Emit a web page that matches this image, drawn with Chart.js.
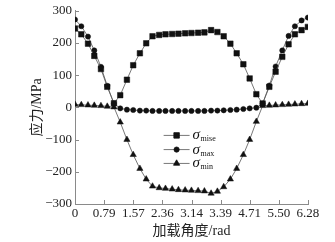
<!DOCTYPE html>
<html>
<head>
<meta charset="utf-8">
<script src="https://cdn.jsdelivr.net/npm/chart.js@4.4.1/dist/chart.umd.min.js"></script>
<style>
  html, body { margin: 0; padding: 0; background: #fff; }
  #wrap { width: 335px; height: 242px; }
</style>
</head>
<body>
<div id="wrap"><canvas id="stressChart" width="335" height="242"></canvas></div>
<script>
// loading angle (rad), every 10 degrees
const angles = [0, 0.17, 0.35, 0.52, 0.70, 0.87, 1.05, 1.22, 1.40, 1.57, 1.75, 1.92, 2.09,
    2.27, 2.44, 2.62, 2.79, 2.97, 3.14, 3.32, 3.49, 3.67, 3.84, 4.01, 4.19, 4.36, 4.54,
    4.71, 4.89, 5.06, 5.24, 5.41, 5.59, 5.76, 5.93, 6.11, 6.28];

const sigmaMise = [245, 227, 198, 160, 119, 64, 13, 38, 86, 131, 168, 199, 221,
    225, 227, 228, 229, 230, 231, 232, 233, 240, 234, 221, 198, 168, 134, 90, 41,
    12, 64, 111, 157, 196, 227, 240, 250];

const sigmaMax = [273, 252, 220, 177, 126, 67, 12, -3, -7, -8, -10, -10, -11,
    -11, -11, -11, -11, -11, -11, -11, -11, -10, -10, -9, -8, -7, -5, -3, -1,
    12, 68, 127, 177, 222, 252, 270, 279];

const sigmaMin = [9, 8, 7, 6, 5, 3, 1, -46, -100, -147, -190, -223, -245,
    -250, -252, -254, -256, -257, -258, -259, -260, -267, -261, -247, -223, -190, -147, -100, -44,
    5, 6, 7, 8, 9, 10, 11, 12];

const xTickValues = [0, 0.785, 1.571, 2.356, 3.142, 3.927, 4.712, 5.498, 6.283];
const xTickLabels = ['0', '0.79', '1.57', '2.36', '3.14', '3.39', '4.71', '5.50', '6.28'];

const seriesNames = ['mise', 'max', 'min'];
const markers = ['rect', 'circle', 'triangle'];
const markerSizes = [3.9, 2.6, 3.6];

const serif = '"Liberation Serif", "Times New Roman", serif';
const cjk = '"Liberation Serif", "Noto Sans CJK SC", serif';
const axisGray = '#8a8a8a';

function toPoints(values) {
    return values.map((v, i) => ({ x: angles[i], y: v }));
}

// short inward tick marks on both axes
const innerTicks = {
    id: 'innerTicks',
    afterDraw(chart) {
        const ctx = chart.ctx;
        const xs = chart.scales.x;
        const ys = chart.scales.y;
        ctx.save();
        ctx.strokeStyle = axisGray;
        ctx.lineWidth = 1;
        ctx.beginPath();
        ys.ticks.forEach((t, i) => {
            const y = Math.round(ys.getPixelForTick(i)) + 0.5;
            ctx.moveTo(ys.right, y);
            ctx.lineTo(ys.right + 4, y);
        });
        xs.ticks.forEach((t, i) => {
            const x = Math.round(xs.getPixelForTick(i)) + 0.5;
            ctx.moveTo(x, xs.top);
            ctx.lineTo(x, xs.top - 4);
        });
        ctx.stroke();
        ctx.restore();
    }
};

// legend inside the plot: line + marker, italic sigma with subscript
const sigmaLegend = {
    id: 'sigmaLegend',
    afterDraw(chart) {
        const ctx = chart.ctx;
        const xs = chart.scales.x;
        const ys = chart.scales.y;
        const x0 = xs.getPixelForValue(2.39);
        const x1 = xs.getPixelForValue(3.09);
        const rows = [ys.getPixelForValue(-87), ys.getPixelForValue(-131), ys.getPixelForValue(-174)];
        ctx.save();
        rows.forEach((y, i) => {
            ctx.strokeStyle = '#555';
            ctx.lineWidth = 0.8;
            ctx.beginPath();
            ctx.moveTo(x0, y);
            ctx.lineTo(x1, y);
            ctx.stroke();
            ctx.fillStyle = '#111';
            ctx.strokeStyle = '#111';
            Chart.helpers.drawPoint(ctx, {
                pointStyle: markers[i], radius: markerSizes[i], rotation: 0, borderWidth: 1
            }, (x0 + x1) / 2, y);
            ctx.textBaseline = 'alphabetic';
            ctx.textAlign = 'left';
            ctx.font = 'italic 15px ' + serif;
            ctx.fillText('σ', x1 + 3, y + 4);
            ctx.font = '8px ' + serif;
            ctx.fillText(seriesNames[i], x1 + 11, y + 6);
        });
        ctx.restore();
    }
};

function makeDataset(name, values, i) {
    return {
        label: 'σ' + name,
        data: toPoints(values),
        borderColor: '#555',
        borderWidth: 0.8,
        backgroundColor: '#111',
        pointBackgroundColor: '#111',
        pointBorderColor: '#111',
        pointBorderWidth: 0.5,
        pointStyle: markers[i],
        pointRadius: markerSizes[i],
        tension: 0,
        fill: false
    };
}

const ctx = document.getElementById('stressChart').getContext('2d');
new Chart(ctx, {
    type: 'line',
    data: {
        datasets: [
            makeDataset('mise', sigmaMise, 0),
            makeDataset('max', sigmaMax, 1),
            makeDataset('min', sigmaMin, 2)
        ]
    },
    options: {
        responsive: false,
        animation: false,
        layout: { padding: { left: 29, right: 27, top: 10, bottom: 2 } },
        scales: {
            x: {
                type: 'linear',
                min: 0,
                max: 6.2832,
                afterBuildTicks: (scale) => {
                    scale.ticks = xTickValues.map(v => ({ value: v }));
                },
                afterFit: (scale) => { scale.height = 36; },
                grid: { display: false, drawTicks: false },
                border: { display: true, color: axisGray, width: 1 },
                ticks: {
                    autoSkip: false,
                    maxRotation: 0,
                    padding: 2,
                    color: '#222',
                    font: { family: serif, size: 13 },
                    callback: (value, index) => xTickLabels[index]
                },
                title: {
                    display: true,
                    text: '加载角度/rad',
                    color: '#222',
                    font: { family: cjk, size: 14 },
                    padding: { top: 0, bottom: 0 }
                }
            },
            y: {
                min: -300,
                max: 300,
                afterFit: (scale) => { scale.width = 46; },
                grid: { display: false, drawTicks: false },
                border: { display: true, color: axisGray, width: 1 },
                ticks: {
                    stepSize: 100,
                    padding: 3,
                    color: '#222',
                    font: { family: serif, size: 13 },
                    callback: (value) => String(value).replace('-', '\u2212')
                },
                title: {
                    display: true,
                    text: '应力/MPa',
                    color: '#222',
                    font: { family: cjk, size: 14 },
                    padding: { top: 0, bottom: 0 }
                }
            }
        },
        plugins: {
            legend: { display: false },
            tooltip: { enabled: false }
        }
    },
    plugins: [innerTicks, sigmaLegend]
});
</script>
</body>
</html>
